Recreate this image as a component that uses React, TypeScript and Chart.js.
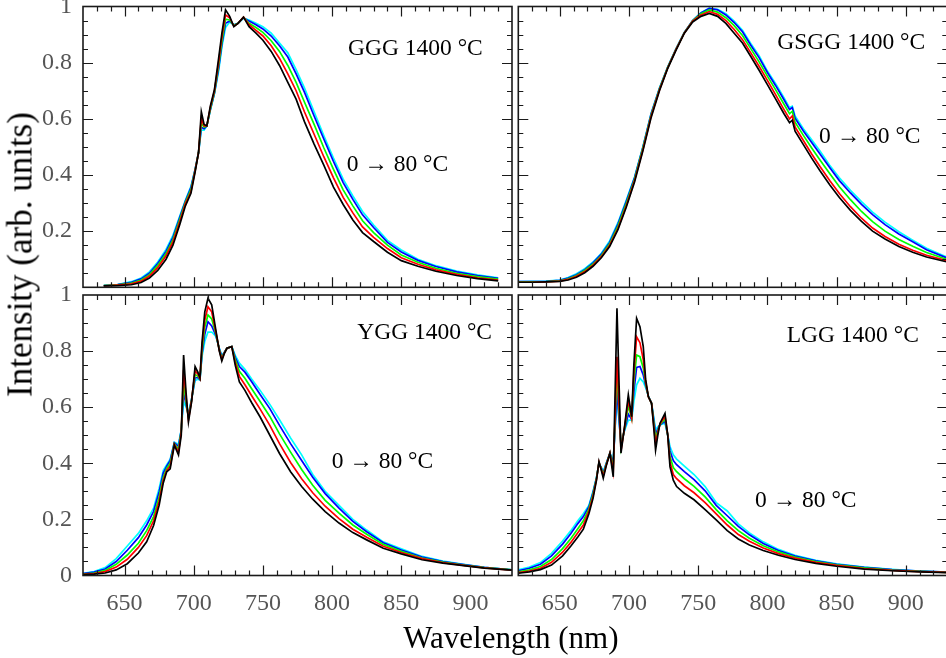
import React, { useEffect, useRef } from 'react';
import { Chart, registerables } from 'chart.js';

Chart.register(...registerables);

// ---------- axes / labels ----------
const X_MIN = 620;
const X_MAX = 930;
const X_TICKS = [650, 700, 750, 800, 850, 900];
const Y_TICKS_FULL = [0, 0.2, 0.4, 0.6, 0.8, 1];
const Y_TICKS_TOP = [0.2, 0.4, 0.6, 0.8, 1];
const SERIES_LABELS = ['0 °C', '20 °C', '40 °C', '60 °C', '80 °C'];
const SERIES_COLORS = ['#000000', '#ff0000', '#00ff00', '#0000ff', '#00ffff'];
const PANEL_NAMES = ['GGG 1400 °C', 'GSGG 1400 °C', 'YGG 1400 °C', 'LGG 1400 °C'];
const RANGE_LABEL = '0 → 80 °C';
const X_TITLE = 'Wavelength (nm)';
const Y_TITLE = 'Intensity (arb. units)';

// ---------- GGG 1400 °C ----------
const GGG_WL = [635, 645, 655, 662, 668, 674, 680, 685, 690, 694, 698, 701, 703.5, 705.5, 707.5, 709.5, 712, 715, 718, 720.5, 723, 726, 729, 732, 736, 740, 745, 750, 756, 762, 768, 774, 780, 787, 794, 801, 808, 815, 822, 830, 840, 850, 862, 875, 890, 905, 920];
const GGG_T0 = [0.005, 0.006, 0.009, 0.017, 0.033, 0.06, 0.1, 0.15, 0.225, 0.29, 0.335, 0.41, 0.48, 0.625, 0.58, 0.575, 0.645, 0.705, 0.815, 0.91, 0.988, 0.965, 0.928, 0.94, 0.962, 0.928, 0.905, 0.88, 0.84, 0.79, 0.73, 0.67, 0.59, 0.51, 0.435, 0.357, 0.295, 0.24, 0.195, 0.163, 0.125, 0.095, 0.075, 0.057, 0.042, 0.031, 0.023];
const GGG_T20 = [0.005, 0.008, 0.012, 0.022, 0.04, 0.07, 0.112, 0.162, 0.235, 0.298, 0.34, 0.415, 0.48, 0.6, 0.575, 0.575, 0.64, 0.7, 0.8, 0.895, 0.97, 0.96, 0.93, 0.94, 0.962, 0.935, 0.915, 0.895, 0.86, 0.815, 0.76, 0.7, 0.625, 0.545, 0.465, 0.39, 0.32, 0.265, 0.215, 0.178, 0.138, 0.105, 0.082, 0.062, 0.046, 0.034, 0.026];
const GGG_T40 = [0.006, 0.009, 0.015, 0.026, 0.045, 0.078, 0.12, 0.17, 0.243, 0.303, 0.348, 0.417, 0.48, 0.585, 0.57, 0.575, 0.635, 0.695, 0.79, 0.88, 0.955, 0.952, 0.932, 0.94, 0.962, 0.94, 0.925, 0.908, 0.878, 0.84, 0.79, 0.73, 0.66, 0.58, 0.497, 0.42, 0.347, 0.29, 0.237, 0.195, 0.15, 0.115, 0.089, 0.068, 0.05, 0.038, 0.029];
const GGG_T60 = [0.006, 0.01, 0.018, 0.03, 0.05, 0.085, 0.128, 0.178, 0.25, 0.307, 0.355, 0.42, 0.48, 0.57, 0.565, 0.575, 0.632, 0.692, 0.78, 0.87, 0.94, 0.948, 0.934, 0.94, 0.96, 0.948, 0.935, 0.92, 0.895, 0.86, 0.82, 0.76, 0.695, 0.61, 0.528, 0.448, 0.373, 0.313, 0.258, 0.213, 0.16, 0.126, 0.096, 0.074, 0.055, 0.042, 0.032];
const GGG_T80 = [0.006, 0.01, 0.02, 0.033, 0.055, 0.09, 0.135, 0.185, 0.255, 0.31, 0.36, 0.42, 0.48, 0.56, 0.56, 0.575, 0.63, 0.69, 0.77, 0.86, 0.925, 0.945, 0.935, 0.94, 0.958, 0.952, 0.94, 0.928, 0.905, 0.87, 0.835, 0.775, 0.71, 0.625, 0.54, 0.46, 0.385, 0.325, 0.27, 0.222, 0.167, 0.133, 0.1, 0.077, 0.058, 0.044, 0.034];

// ---------- GSGG 1400 °C ----------
const GSGG_WL = [620, 630, 640, 650, 656, 662, 668, 674, 680, 686, 692, 698, 704, 710, 716, 722, 728, 734, 740, 746, 752, 758, 764, 770, 776, 782, 788, 794, 800, 806, 812, 816, 818, 820, 826, 832, 838, 845, 852, 860, 868, 876, 885, 895, 905, 915, 930];
const GSGG_T0 = [0.018, 0.018, 0.019, 0.021, 0.026, 0.036, 0.052, 0.075, 0.105, 0.145, 0.205, 0.285, 0.375, 0.485, 0.605, 0.7, 0.78, 0.845, 0.905, 0.945, 0.965, 0.975, 0.965, 0.94, 0.905, 0.87, 0.822, 0.773, 0.722, 0.67, 0.618, 0.586, 0.595, 0.556, 0.508, 0.46, 0.415, 0.365, 0.32, 0.274, 0.235, 0.2, 0.172, 0.145, 0.125, 0.108, 0.09];
const GSGG_T20 = [0.018, 0.018, 0.019, 0.022, 0.028, 0.039, 0.056, 0.079, 0.109, 0.15, 0.21, 0.29, 0.38, 0.49, 0.61, 0.703, 0.782, 0.847, 0.906, 0.948, 0.97, 0.982, 0.972, 0.95, 0.918, 0.882, 0.835, 0.787, 0.737, 0.685, 0.633, 0.6, 0.61, 0.571, 0.523, 0.475, 0.43, 0.38, 0.334, 0.287, 0.246, 0.211, 0.181, 0.153, 0.132, 0.114, 0.094];
const GSGG_T40 = [0.019, 0.019, 0.02, 0.023, 0.03, 0.042, 0.06, 0.083, 0.113, 0.155, 0.218, 0.298, 0.385, 0.495, 0.614, 0.706, 0.783, 0.848, 0.907, 0.949, 0.974, 0.988, 0.98, 0.96, 0.932, 0.897, 0.85, 0.803, 0.752, 0.703, 0.652, 0.618, 0.627, 0.588, 0.541, 0.496, 0.453, 0.405, 0.358, 0.312, 0.27, 0.234, 0.2, 0.17, 0.146, 0.124, 0.099];
const GSGG_T60 = [0.02, 0.02, 0.021, 0.025, 0.033, 0.045, 0.063, 0.087, 0.118, 0.16, 0.225, 0.305, 0.39, 0.498, 0.618, 0.708, 0.784, 0.849, 0.908, 0.95, 0.977, 0.993, 0.988, 0.97, 0.943, 0.91, 0.862, 0.818, 0.765, 0.718, 0.668, 0.633, 0.64, 0.602, 0.557, 0.516, 0.475, 0.427, 0.38, 0.336, 0.295, 0.259, 0.223, 0.19, 0.162, 0.134, 0.104];
const GSGG_T80 = [0.02, 0.021, 0.022, 0.026, 0.035, 0.048, 0.066, 0.09, 0.121, 0.165, 0.23, 0.31, 0.393, 0.5, 0.62, 0.71, 0.785, 0.85, 0.908, 0.95, 0.978, 0.994, 0.99, 0.974, 0.948, 0.915, 0.868, 0.825, 0.77, 0.725, 0.675, 0.64, 0.645, 0.61, 0.565, 0.525, 0.485, 0.435, 0.39, 0.345, 0.305, 0.268, 0.232, 0.198, 0.168, 0.139, 0.107];

// ---------- YGG 1400 °C ----------
const YGG_WL = [620, 628, 636, 644, 652, 660, 666, 671, 675, 678, 680.5, 683, 686, 689, 691, 692.7, 694.5, 696.2, 698.5, 701, 703, 704.5, 706, 708, 710.3, 713, 716, 718.5, 720.3, 722, 724, 727.5, 730, 733, 737, 742, 748, 755, 762, 770, 778, 786, 795, 805, 815, 825, 837, 850, 865, 880, 895, 910, 930];
const YGG_T0 = [0.003, 0.005, 0.009, 0.02, 0.042, 0.08, 0.12, 0.178, 0.25, 0.33, 0.37, 0.38, 0.465, 0.43, 0.5, 0.786, 0.65, 0.548, 0.62, 0.745, 0.725, 0.705, 0.83, 0.94, 0.988, 0.965, 0.875, 0.8, 0.765, 0.79, 0.81, 0.816, 0.75, 0.69, 0.66, 0.615, 0.565, 0.5, 0.435, 0.37, 0.317, 0.272, 0.228, 0.187, 0.153, 0.127, 0.097, 0.077, 0.056, 0.044, 0.035, 0.026, 0.019];
const YGG_T20 = [0.004, 0.007, 0.014, 0.03, 0.058, 0.1, 0.142, 0.195, 0.265, 0.34, 0.375, 0.39, 0.468, 0.44, 0.51, 0.733, 0.635, 0.555, 0.625, 0.73, 0.718, 0.702, 0.815, 0.91, 0.958, 0.94, 0.868, 0.803, 0.77, 0.792, 0.81, 0.816, 0.76, 0.71, 0.68, 0.64, 0.593, 0.535, 0.47, 0.403, 0.345, 0.295, 0.247, 0.203, 0.165, 0.136, 0.104, 0.082, 0.06, 0.046, 0.036, 0.027, 0.019];
const YGG_T40 = [0.005, 0.009, 0.018, 0.04, 0.073, 0.115, 0.16, 0.21, 0.28, 0.35, 0.382, 0.4, 0.47, 0.45, 0.515, 0.685, 0.62, 0.562, 0.627, 0.717, 0.71, 0.7, 0.8, 0.885, 0.929, 0.915, 0.862, 0.806, 0.775, 0.793, 0.81, 0.816, 0.77, 0.728, 0.703, 0.665, 0.62, 0.567, 0.505, 0.44, 0.378, 0.322, 0.268, 0.222, 0.18, 0.147, 0.111, 0.086, 0.062, 0.048, 0.037, 0.028, 0.02];
const YGG_T60 = [0.007, 0.012, 0.023, 0.05, 0.09, 0.135, 0.18, 0.228, 0.298, 0.365, 0.39, 0.41, 0.473, 0.46, 0.518, 0.65, 0.61, 0.57, 0.629, 0.705, 0.705, 0.698, 0.79, 0.86, 0.905, 0.89, 0.856, 0.808, 0.78, 0.794, 0.81, 0.816, 0.778, 0.745, 0.725, 0.69, 0.645, 0.595, 0.535, 0.47, 0.41, 0.35, 0.292, 0.24, 0.193, 0.156, 0.117, 0.091, 0.066, 0.05, 0.039, 0.029, 0.02];
const YGG_T80 = [0.008, 0.014, 0.028, 0.06, 0.105, 0.15, 0.195, 0.24, 0.31, 0.375, 0.395, 0.415, 0.475, 0.468, 0.52, 0.62, 0.6, 0.578, 0.63, 0.695, 0.7, 0.697, 0.78, 0.835, 0.868, 0.868, 0.852, 0.81, 0.785, 0.795, 0.81, 0.816, 0.785, 0.757, 0.735, 0.7, 0.66, 0.61, 0.555, 0.49, 0.43, 0.36, 0.3, 0.25, 0.2, 0.162, 0.12, 0.095, 0.068, 0.051, 0.04, 0.029, 0.02];

// ---------- LGG 1400 °C ----------
const LGG_WL = [620, 628, 636, 644, 652, 658, 663, 667, 671, 674, 676.5, 678.3, 680, 681.4, 683.5, 686.2, 688.6, 691.3, 694.2, 697, 699.5, 701.9, 703.5, 705.5, 707.9, 710.3, 712, 714, 716.3, 718, 719.2, 720.8, 722.4, 726, 728, 729.6, 732, 734.4, 740, 747, 755, 763, 771, 779, 787, 797, 808, 820, 835, 850, 870, 890, 910, 930];
const LGG_T0 = [0.008, 0.013, 0.021, 0.037, 0.07, 0.105, 0.137, 0.165, 0.22, 0.275, 0.34, 0.406, 0.375, 0.347, 0.39, 0.436, 0.352, 0.953, 0.436, 0.54, 0.644, 0.566, 0.75, 0.917, 0.887, 0.816, 0.7, 0.637, 0.614, 0.52, 0.447, 0.5, 0.543, 0.578, 0.5, 0.388, 0.34, 0.317, 0.293, 0.27, 0.235, 0.198, 0.16, 0.13, 0.109, 0.089, 0.072, 0.057, 0.043, 0.033, 0.023, 0.017, 0.013, 0.01];
const LGG_T20 = [0.01, 0.016, 0.026, 0.047, 0.083, 0.118, 0.152, 0.18, 0.23, 0.283, 0.343, 0.404, 0.378, 0.355, 0.393, 0.436, 0.37, 0.78, 0.445, 0.535, 0.625, 0.563, 0.72, 0.851, 0.83, 0.77, 0.69, 0.637, 0.614, 0.53, 0.47, 0.51, 0.54, 0.568, 0.5, 0.405, 0.36, 0.345, 0.32, 0.295, 0.26, 0.22, 0.18, 0.146, 0.122, 0.098, 0.078, 0.062, 0.047, 0.036, 0.025, 0.018, 0.014, 0.011];
const LGG_T40 = [0.013, 0.02, 0.032, 0.057, 0.096, 0.132, 0.167, 0.195, 0.238, 0.29, 0.346, 0.402, 0.38, 0.36, 0.396, 0.436, 0.385, 0.727, 0.455, 0.53, 0.605, 0.56, 0.69, 0.786, 0.78, 0.74, 0.685, 0.638, 0.614, 0.54, 0.49, 0.515, 0.538, 0.558, 0.5, 0.425, 0.385, 0.37, 0.345, 0.318, 0.28, 0.235, 0.195, 0.16, 0.133, 0.106, 0.084, 0.066, 0.05, 0.038, 0.027, 0.019, 0.015, 0.011];
const LGG_T60 = [0.017, 0.026, 0.04, 0.07, 0.112, 0.15, 0.185, 0.21, 0.245, 0.296, 0.348, 0.4, 0.383, 0.365, 0.398, 0.436, 0.4, 0.661, 0.463, 0.525, 0.575, 0.557, 0.655, 0.742, 0.745, 0.715, 0.678, 0.639, 0.614, 0.55, 0.505, 0.522, 0.537, 0.55, 0.5, 0.445, 0.41, 0.395, 0.37, 0.342, 0.302, 0.25, 0.213, 0.175, 0.145, 0.114, 0.089, 0.069, 0.052, 0.04, 0.029, 0.021, 0.016, 0.012];
const LGG_T80 = [0.02, 0.03, 0.046, 0.079, 0.123, 0.16, 0.195, 0.22, 0.25, 0.3, 0.35, 0.4, 0.385, 0.37, 0.4, 0.436, 0.41, 0.637, 0.471, 0.52, 0.554, 0.554, 0.62, 0.68, 0.703, 0.69, 0.67, 0.64, 0.614, 0.56, 0.519, 0.53, 0.537, 0.543, 0.5, 0.46, 0.43, 0.415, 0.39, 0.36, 0.317, 0.26, 0.23, 0.184, 0.152, 0.12, 0.093, 0.072, 0.054, 0.042, 0.03, 0.022, 0.016, 0.012];

// ---------- layout ----------
const PAGE_W = 946;
const PAGE_H = 658;
const M = 40;
const Y_AXIS_W = 70;
const X_AXIS_H = 60;
const SERIF = "'Liberation Serif', 'DejaVu Serif', 'Times New Roman', serif";
const TICK_COLOR = '#555555';
const FRAME_COLOR = '#1a1a1a';

type Rect = { l: number; t: number; r: number; b: number };

const frameTicks = {
  id: 'frameTicks',
  afterDatasetsDraw(chart: any) {
    const { ctx, chartArea: a } = chart;
    const xs = chart.scales.x;
    const ys = chart.scales.y;
    ctx.save();
    ctx.strokeStyle = FRAME_COLOR;
    ctx.lineWidth = 1.2;
    ctx.beginPath();
    for (let k = 1; k * 10 + X_MIN < X_MAX; k++) {
      const v = X_MIN + k * 10;
      const px = Math.round(xs.getPixelForValue(v)) + 0.5;
      const len = v % 50 === 0 ? 10 : 5;
      ctx.moveTo(px, a.bottom);
      ctx.lineTo(px, a.bottom - len);
      ctx.moveTo(px, a.top);
      ctx.lineTo(px, a.top + len);
    }
    for (let k = 1; k < 20; k++) {
      const py = Math.round(ys.getPixelForValue(k * 0.05)) + 0.5;
      const len = k % 4 === 0 ? 10 : 5;
      ctx.moveTo(a.left, py);
      ctx.lineTo(a.left + len, py);
      ctx.moveTo(a.right, py);
      ctx.lineTo(a.right - len, py);
    }
    ctx.stroke();
    ctx.lineWidth = 1.6;
    ctx.strokeRect(a.left, a.top, a.right - a.left, a.bottom - a.top);
    ctx.restore();
  },
};

function Panel(props: { wl: number[]; series: number[][]; rect: Rect; showX: boolean; showY: boolean; yTicks: number[] }) {
  const ref = useRef<HTMLCanvasElement>(null);
  const W = PAGE_W + 2 * M;
  const H = PAGE_H + 2 * M;
  useEffect(() => {
    const { wl, series, rect, showX, showY, yTicks } = props;
    const chart = new Chart(ref.current as HTMLCanvasElement, {
      type: 'line',
      data: {
        datasets: series.map((s, i) => ({
          label: SERIES_LABELS[i],
          data: wl.map((x, j) => ({ x, y: s[j] })),
          borderColor: SERIES_COLORS[i],
          backgroundColor: SERIES_COLORS[i],
          borderWidth: 1.7,
          pointRadius: 0,
          tension: 0,
          fill: false,
        })),
      },
      options: {
        animation: false,
        responsive: false,
        devicePixelRatio: 1,
        events: [],
        layout: {
          padding: {
            left: rect.l + M - Y_AXIS_W,
            top: rect.t + M,
            right: W - (rect.r + M),
            bottom: H - (rect.b + M) - X_AXIS_H,
          },
        },
        plugins: { legend: { display: false }, tooltip: { enabled: false } },
        scales: {
          x: {
            type: 'linear',
            min: X_MIN,
            max: X_MAX,
            grid: { display: false, drawTicks: false },
            border: { display: false },
            afterBuildTicks: (ax: any) => { ax.ticks = X_TICKS.map((v) => ({ value: v })); },
            afterFit: (ax: any) => { ax.height = X_AXIS_H; },
            ticks: {
              display: showX,
              padding: 14,
              color: TICK_COLOR,
              font: { family: SERIF, size: 24 },
              maxRotation: 0,
              minRotation: 0,
              autoSkip: false,
              callback: (v: any) => String(v),
            },
          },
          y: {
            type: 'linear',
            min: 0,
            max: 1,
            grid: { display: false, drawTicks: false },
            border: { display: false },
            afterBuildTicks: (ax: any) => { ax.ticks = yTicks.map((v) => ({ value: v })); },
            afterFit: (ax: any) => { ax.width = Y_AXIS_W; },
            ticks: {
              display: showY,
              padding: 11,
              color: TICK_COLOR,
              font: { family: SERIF, size: 24 },
              autoSkip: false,
              callback: (v: any) => String(Math.round(Number(v) * 10) / 10),
            },
          },
        },
      } as any,
      plugins: [frameTicks],
    });
    return () => chart.destroy();
  }, []);
  return (
    <canvas
      ref={ref}
      width={W}
      height={H}
      style={{ position: 'absolute', left: -M, top: -M, width: W, height: H }}
    />
  );
}

function Label(props: { text: string; left: number; baseline: number; size: number }) {
  const { text, left, baseline, size } = props;
  return (
    <div
      style={{
        position: 'absolute',
        left,
        top: baseline - 0.8375 * size,
        fontFamily: SERIF,
        fontSize: size,
        lineHeight: `${size}px`,
        color: '#000',
        whiteSpace: 'nowrap',
      }}
    >
      {text}
    </div>
  );
}

export default function App() {
  const TL: Rect = { l: 83, t: 6.5, r: 512, b: 287.3 };
  const TR: Rect = { l: 518.3, t: 6.5, r: 947.3, b: 287.3 };
  const BL: Rect = { l: 83, t: 295, r: 512, b: 575.5 };
  const BR: Rect = { l: 518.3, t: 295, r: 947.3, b: 575.5 };
  const annSize = 23.5;
  const yTitleSize = 35;
  return (
    <div
      style={{
        position: 'absolute',
        left: 0,
        top: 0,
        width: PAGE_W,
        height: PAGE_H,
        overflow: 'hidden',
        background: '#ffffff',
      }}
    >
      <Panel wl={GGG_WL} series={[GGG_T0, GGG_T20, GGG_T40, GGG_T60, GGG_T80]} rect={TL} showX={false} showY={true} yTicks={Y_TICKS_TOP} />
      <Panel wl={GSGG_WL} series={[GSGG_T0, GSGG_T20, GSGG_T40, GSGG_T60, GSGG_T80]} rect={TR} showX={false} showY={false} yTicks={Y_TICKS_TOP} />
      <Panel wl={YGG_WL} series={[YGG_T0, YGG_T20, YGG_T40, YGG_T60, YGG_T80]} rect={BL} showX={true} showY={true} yTicks={Y_TICKS_FULL} />
      <Panel wl={LGG_WL} series={[LGG_T0, LGG_T20, LGG_T40, LGG_T60, LGG_T80]} rect={BR} showX={true} showY={false} yTicks={Y_TICKS_FULL} />

      <Label text={PANEL_NAMES[0]} left={348} baseline={56} size={annSize} />
      <Label text={RANGE_LABEL} left={346.7} baseline={171.5} size={annSize} />
      <Label text={PANEL_NAMES[1]} left={777.3} baseline={50} size={annSize} />
      <Label text={RANGE_LABEL} left={819} baseline={144} size={annSize} />
      <Label text={PANEL_NAMES[2]} left={357.3} baseline={340} size={annSize} />
      <Label text={RANGE_LABEL} left={331.7} baseline={468.3} size={annSize} />
      <Label text={PANEL_NAMES[3]} left={786.7} baseline={342.7} size={annSize} />
      <Label text={RANGE_LABEL} left={755} baseline={507.3} size={annSize} />

      <div
        style={{
          position: 'absolute',
          left: 310.9,
          width: 400,
          top: 648.3 - 0.8375 * 31,
          textAlign: 'center',
          fontFamily: SERIF,
          fontSize: 31,
          lineHeight: '31px',
          color: '#000',
          whiteSpace: 'nowrap',
        }}
      >
        {X_TITLE}
      </div>
      <div
        style={{
          position: 'absolute',
          left: 20.2 - 200,
          width: 400,
          top: 254 - yTitleSize / 2,
          height: yTitleSize,
          textAlign: 'center',
          fontFamily: SERIF,
          fontSize: yTitleSize,
          lineHeight: `${yTitleSize}px`,
          color: '#000',
          whiteSpace: 'nowrap',
          transform: 'rotate(-90deg)',
          transformOrigin: '50% 50%',
        }}
      >
        {Y_TITLE}
      </div>
    </div>
  );
}
